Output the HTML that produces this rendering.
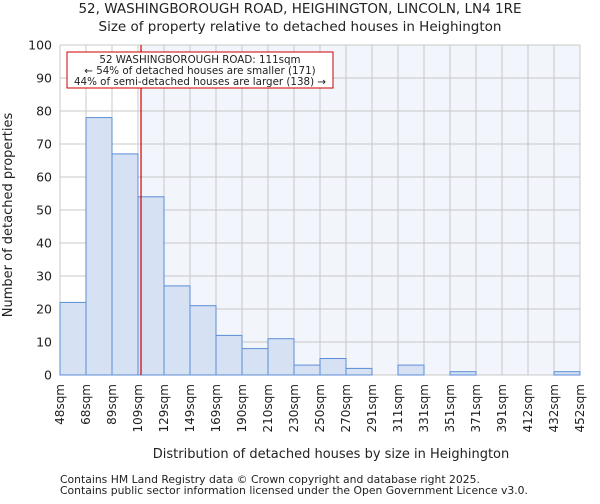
<!DOCTYPE html>
<html><head><meta charset="utf-8"><style>
body{margin:0;background:#fff;font-family:"DejaVu Sans","Liberation Sans",sans-serif;}
svg text{font-family:"DejaVu Sans","Liberation Sans",sans-serif;fill:#222;}
</style></head><body>
<svg id="c" width="600" height="500">
<text x="300" y="13" font-size="13.5" text-anchor="middle">52, WASHINGBOROUGH ROAD, HEIGHINGTON, LINCOLN, LN4 1RE</text>
<text x="300" y="31" font-size="13.5" text-anchor="middle">Size of property relative to detached houses in Heighington</text>
<rect x="60" y="45" width="520" height="330" fill="#f2f5fc"/>
<rect x="60" y="45" width="81" height="330" fill="#ffffff"/>
<g id="grid"></g><g id="bars"></g><g id="ticks"></g>
<line x1="141" y1="45" x2="141" y2="375" stroke="#c00" stroke-width="1.2"/>
<rect x="67" y="52" width="266" height="36" fill="#fff" stroke="#c00" stroke-width="1"/>
<text x="200" y="63" font-size="10.3" text-anchor="middle">52 WASHINGBOROUGH ROAD: 111sqm</text>
<text x="200" y="74" font-size="10.3" text-anchor="middle">← 54% of detached houses are smaller (171)</text>
<text x="200" y="85" font-size="10.3" text-anchor="middle">44% of semi-detached houses are larger (138) →</text>
<text x="12" y="215" font-size="13" text-anchor="middle" transform="rotate(-90 12 215)">Number of detached properties</text>
<text x="331" y="458" font-size="13" text-anchor="middle">Distribution of detached houses by size in Heighington</text>
<text x="60" y="483" font-size="10.8">Contains HM Land Registry data © Crown copyright and database right 2025.</text>
<text x="60" y="494" font-size="10.8">Contains public sector information licensed under the Open Government Licence v3.0.</text>
</svg>
<script>
const categories=["48sqm","68sqm","89sqm","109sqm","129sqm","149sqm","169sqm","190sqm","210sqm","230sqm","250sqm","270sqm","291sqm","311sqm","331sqm","351sqm","371sqm","391sqm","412sqm","432sqm","452sqm"];
const values=[22,78,67,54,27,21,12,8,11,3,5,2,0,3,0,1,0,0,0,1];
const yTicks=[0,10,20,30,40,50,60,70,80,90,100];
const X0=60,X1=580,Y0=375,Y1=45,YMAX=100;
const bw=(X1-X0)/values.length;
const xs=i=>X0+i*bw, ys=v=>Y0-(v/YMAX)*(Y0-Y1);
const NS="http://www.w3.org/2000/svg";
const g=document.getElementById('grid'),b=document.getElementById('bars'),t=document.getElementById('ticks');
function mk(tag,attrs,p){const e=document.createElementNS(NS,tag);for(const k in attrs)e.setAttribute(k,attrs[k]);p.appendChild(e);return e;}
yTicks.forEach(v=>{
 const l=mk('line',{x1:X0,x2:X1,y1:ys(v),y2:ys(v),stroke:'#c8c8c8','stroke-width':1},g);
 
 
 const tx=mk('text',{x:X0-8,y:ys(v)+4.5,'font-size':12.5,'text-anchor':'end'},t);
 tx.textContent=v;
 
 
});
categories.forEach((c,i)=>{
 const x=xs(i);
 const l=mk('line',{x1:x,x2:x,y1:Y1,y2:Y0,stroke:'#c8c8c8','stroke-width':1},g);
 
 
 const tx=mk('text',{x:0,y:0,'font-size':12,'text-anchor':'end',transform:`translate(${x+4},${Y0+9}) rotate(-90)`},t);
 tx.textContent=c;
 
 
});
values.forEach((v,i)=>{
 if(v<=0)return;
 const r=mk('rect',{x:xs(i),y:ys(v),width:bw,height:Y0-ys(v),fill:'#d6e1f3',stroke:'#5b8dd6','stroke-width':1},b);
 
 
});
</script>
</body></html>
